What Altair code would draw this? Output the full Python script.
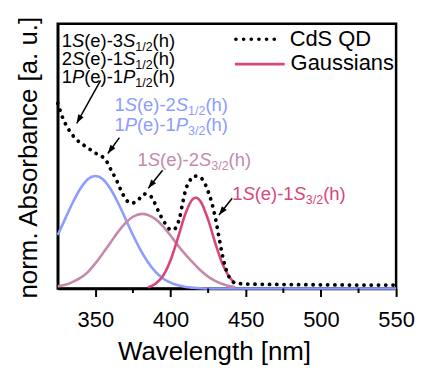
import math
import altair as alt
import pandas as pd

# ---------------- data ----------------
# CdS QD absorbance (dotted curve)
qd_wl = [325, 328.5, 333, 338, 344, 350.5, 357, 360.5, 364, 367.5,
         370.5, 374, 378, 382.5, 386, 389, 392.5, 397, 399.5, 402,
         404.5, 406, 408, 410, 412.4, 415.7, 419, 422.3, 425, 427.8,
         430, 432, 434, 436, 438, 440, 443, 450, 475, 500,
         525, 550]
qd_abs = [0.700, 0.642, 0.594, 0.560, 0.535, 0.510, 0.485, 0.447, 0.410, 0.365,
          0.335, 0.322, 0.332, 0.357, 0.353, 0.328, 0.285, 0.241, 0.224, 0.222,
          0.241, 0.266, 0.322, 0.372, 0.403, 0.425, 0.422, 0.403, 0.366, 0.316,
          0.262, 0.200, 0.140, 0.090, 0.055, 0.034, 0.021, 0.017, 0.015, 0.014,
          0.013, 0.013]

# Gaussian 1 (blue)
blue_wl = [325, 330, 335, 340, 345, 350, 355, 360, 365, 370, 375, 380, 385,
           390, 395, 400, 405, 410, 415, 420, 425, 550]
blue_abs = [0.202, 0.264, 0.325, 0.377, 0.413, 0.425, 0.413, 0.377, 0.325, 0.264,
            0.202, 0.146, 0.099, 0.063, 0.038, 0.022, 0.012, 0.006, 0.003, 0.001,
            0.0, 0.0]

# Gaussian 2 (mauve)
mauve_wl = [325, 330, 335, 340, 345, 350, 355, 360, 365, 370, 375, 381, 385,
            390, 395, 400, 405, 410, 415, 420, 425, 430, 435, 440, 443]
mauve_abs = [0.008, 0.014, 0.025, 0.040, 0.062, 0.095, 0.133, 0.173, 0.213, 0.247,
             0.271, 0.282, 0.278, 0.262, 0.235, 0.200, 0.162, 0.128, 0.097, 0.068,
             0.045, 0.028, 0.016, 0.008, 0.005]

# Gaussian 3 (red)
red_wl = [385, 390, 395, 400, 405, 410, 415, 417, 420, 425, 430, 435, 440, 443]
red_abs = [0.005, 0.018, 0.048, 0.107, 0.193, 0.284, 0.339, 0.343, 0.329, 0.260,
           0.167, 0.087, 0.037, 0.020]

minor_ticks = [375, 425, 475, 525]
major_ticks = [350, 400, 450, 500, 550]

# annotation labels: anchor (wavelength, absorbance), colour, segments
BLACK = "#000000"
BLUE = "#8c9cff"
MAUVE = "#c58aab"
RED = "#d9467c"

labels = [
    (327.6, 0.914, BLACK, [("1", "n"), ("S", "i"), ("(e)-3", "n"), ("S", "i"), ("1/2", "s"), ("(h)", "n")]),
    (327.6, 0.846, BLACK, [("2", "n"), ("S", "i"), ("(e)-1", "n"), ("S", "i"), ("1/2", "s"), ("(h)", "n")]),
    (327.6, 0.778, BLACK, [("1", "n"), ("P", "i"), ("(e)-1", "n"), ("P", "i"), ("1/2", "s"), ("(h)", "n")]),
    (362.7, 0.669, BLUE, [("1", "n"), ("S", "i"), ("(e)-2", "n"), ("S", "i"), ("1/2", "s"), ("(h)", "n")]),
    (362.7, 0.594, BLUE, [("1", "n"), ("P", "i"), ("(e)-1", "n"), ("P", "i"), ("3/2", "s"), ("(h)", "n")]),
    (378.1, 0.461, MAUVE, [("1", "n"), ("S", "i"), ("(e)-2", "n"), ("S", "i"), ("3/2", "s"), ("(h)", "n")]),
    (441.0, 0.335, RED, [("1", "n"), ("S", "i"), ("(e)-1", "n"), ("S", "i"), ("3/2", "s"), ("(h)", "n")]),
]

# arrows: start (wl, abs) -> tip (wl, abs)
arrow_x = [353.5, 366.0, 394.7, 441.0]
arrow_y = [0.786, 0.570, 0.447, 0.341]
arrow_x2 = [337.6, 358.3, 385.2, 432.2]
arrow_y2 = [0.624, 0.510, 0.379, 0.278]

# ---------------- layout constants ----------------
W, H = 340, 266
X0, X1 = 325, 550
PX_PER_NM = W / (X1 - X0)
PX_PER_ABS = H / 1.0
FONT = "Liberation Sans"
FS_MAIN, FS_SUB = 18.5, 12.5

ARIAL = {"0": .556, "1": .556, "2": .556, "3": .556, "S": .667, "P": .667,
         "(": .333, ")": .333, "e": .556, "h": .556, "-": .333, "/": .278}


def text_width(s, size):
    return sum(ARIAL.get(c, .556) for c in s) * size


rows = []
for ax, ay, col, segs in labels:
    off = 0.0
    for txt, sty in segs:
        size = FS_SUB if sty == "s" else FS_MAIN
        rows.append({"wl": ax + off / PX_PER_NM, "v": ay, "text": txt,
                     "style": sty, "color": col})
        off += text_width(txt, size)
lab_df = pd.DataFrame(rows)

arr_rows = []
for x, y, x2, y2 in zip(arrow_x, arrow_y, arrow_x2, arrow_y2):
    dxp = (x2 - x) * PX_PER_NM
    dyp = -(y2 - y) * PX_PER_ABS
    ang = math.degrees(math.atan2(dxp, -dyp)) % 360
    arr_rows.append({"x": x, "y": y, "x2": x2, "y2": y2, "angle": ang})
arr_df = pd.DataFrame(arr_rows)

qd_df = pd.DataFrame({"wl": qd_wl, "v": qd_abs})
blue_df = pd.DataFrame({"wl": blue_wl, "v": blue_abs})
mauve_df = pd.DataFrame({"wl": mauve_wl, "v": mauve_abs})
red_df = pd.DataFrame({"wl": red_wl, "v": red_abs})
minor_df = pd.DataFrame({"wl": minor_ticks})

xscale = alt.Scale(domain=[X0, X1], nice=False, zero=False)
yscale = alt.Scale(domain=[0, 1], nice=False, zero=False)

xaxis = alt.Axis(values=major_ticks, tickSize=8, tickWidth=2, tickColor="black",
                 labelFontSize=22, labelFont=FONT, labelColor="black",
                 labelBaseline="alphabetic", labelPadding=30, labelFlush=False,
                 title="Wavelength [nm]", titleFontSize=26, titleFont=FONT,
                 titleFontWeight="normal", titleColor="black", titleX=157, titleY=71,
                 titleBaseline="alphabetic", titleAlign="center",
                 domain=True, domainColor="black", domainWidth=2.5, grid=False)
yaxis = alt.Axis(labels=False, ticks=False, title="norm. Absorbance [a. u.]",
                 titleFontSize=26, titleFont=FONT, titleFontWeight="normal",
                 titleColor="black", titleX=-21, titleY=134, titleAngle=270,
                 titleBaseline="alphabetic", titleAlign="center",
                 domain=True, domainColor="black", domainWidth=2.5, grid=False)


def curve(df, color):
    return alt.Chart(df).mark_line(color=color, strokeWidth=2.6, interpolate="monotone").encode(
        x=alt.X("wl:Q", scale=xscale, axis=xaxis),
        y=alt.Y("v:Q", scale=yscale, axis=yaxis),
    )


blue_line = curve(blue_df, BLUE)
mauve_line = curve(mauve_df, MAUVE)
red_line = curve(red_df, RED)

qd_line = alt.Chart(qd_df).mark_line(
    color="black", strokeWidth=3.8, strokeDash=[0.1, 7.2], strokeCap="round",
    interpolate="monotone",
).encode(x=alt.X("wl:Q", scale=xscale), y=alt.Y("v:Q", scale=yscale))

minor = alt.Chart(minor_df).mark_rule(color="black", strokeWidth=2).encode(
    x=alt.X("wl:Q", scale=xscale), y=alt.value(H), y2=alt.value(H + 4.5))

arrow_lines = alt.Chart(arr_df).mark_rule(color="black", strokeWidth=1.5).encode(
    x=alt.X("x:Q", scale=xscale), y=alt.Y("y:Q", scale=yscale), x2="x2:Q", y2="y2:Q")
arrow_heads = alt.Chart(arr_df).mark_point(
    shape="M0,0L-0.36,1L0.36,1Z", filled=True, color="black", opacity=1, size=300,
).encode(x=alt.X("x2:Q", scale=xscale), y=alt.Y("y2:Q", scale=yscale),
         angle=alt.Angle("angle:Q", scale=None))


def label_layer(style, **kw):
    return alt.Chart(lab_df).transform_filter(alt.datum.style == style).mark_text(
        align="left", baseline="alphabetic", font=FONT, **kw
    ).encode(x=alt.X("wl:Q", scale=xscale), y=alt.Y("v:Q", scale=yscale),
             text="text:N", color=alt.Color("color:N", scale=None))


lab_n = label_layer("n", fontSize=FS_MAIN)
lab_i = label_layer("i", fontSize=FS_MAIN, fontStyle="italic")
lab_s = label_layer("s", fontSize=FS_SUB, dy=4)

# legend (drawn manually, top right of the plot)
leg_dots = alt.Chart(qd_df.head(1)).mark_rule(
    color="black", strokeWidth=3.6, strokeDash=[0.1, 7.6], strokeCap="round"
).encode(x=alt.value(179), x2=alt.value(219), y=alt.value(15.5))
leg_line = alt.Chart(qd_df.head(1)).mark_rule(color=RED, strokeWidth=2.6).encode(
    x=alt.value(178), x2=alt.value(228), y=alt.value(40.5))
leg_t1 = alt.Chart(qd_df.head(1)).mark_text(
    align="left", baseline="alphabetic", font=FONT, fontSize=22, color="black"
).encode(x=alt.value(233), y=alt.value(22), text=alt.value("CdS QD"))
leg_t2 = alt.Chart(qd_df.head(1)).mark_text(
    align="left", baseline="alphabetic", font=FONT, fontSize=22, color="black"
).encode(x=alt.value(234), y=alt.value(46), text=alt.value("Gaussians"))

chart = alt.layer(
    blue_line, mauve_line, red_line, qd_line, minor, arrow_lines, arrow_heads,
    lab_n, lab_i, lab_s, leg_dots, leg_line, leg_t1, leg_t2,
).properties(
    width=W, height=H,
    padding={"left": 50, "top": 15, "right": 22, "bottom": 76},
    autosize="none",
).configure(
    font=FONT
).configure_view(
    stroke="black", strokeWidth=2.5
).configure_axis(
    domainColor="black", domainWidth=2.5
)

chart.save("out.html", embed_options={"renderer": "svg", "actions": False})
